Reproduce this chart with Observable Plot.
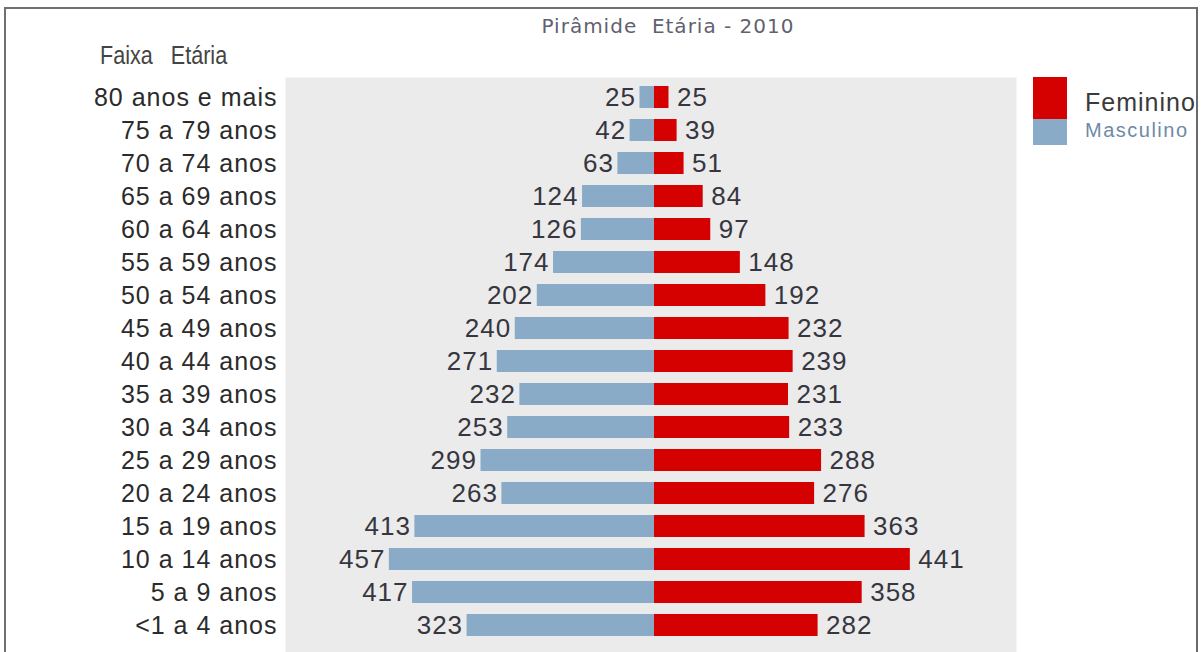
<!DOCTYPE html>
<html>
<head>
<meta charset="utf-8">
<script src="https://cdn.jsdelivr.net/npm/d3@7"></script>
<script src="https://cdn.jsdelivr.net/npm/@observablehq/plot@0.6"></script>
<style>
  html, body { margin: 0; padding: 0; background: #fff; }
  #page { position: relative; width: 1204px; height: 652px; overflow: hidden; font-family: "Liberation Sans", Arial, sans-serif; }
  #border { position: absolute; left: 4px; top: 7px; width: 1194px; height: 660px; border-top: 2px solid #707070; border-left: 2px solid #707070; border-right: 2px solid #6a6a6a; box-sizing: border-box; pointer-events: none; z-index: 5; }
  #chart { position: absolute; left: 0; top: 0; }
  #title { position: absolute; top: 14px; left: 0; width: 1336px; text-align: center; font-family: "DejaVu Sans", Verdana, sans-serif; font-size: 20px; letter-spacing: 1px; color: #625f70; white-space: pre; }
  #ylabel { position: absolute; left: 100px; top: 40px; font-size: 26px; color: #444; white-space: pre; transform: scaleX(0.83); transform-origin: left top; }
  #legend { position: absolute; left: 1033px; top: 77px; width: 162px; height: 80px; overflow: hidden; }
  .sw { position: absolute; left: 0; width: 34px; }
  .lt { position: absolute; white-space: pre; transform-origin: left top; }
</style>
</head>
<body>
<div id="page">
  <div id="chart"></div>
  <div id="title">Pirâmide  Etária - 2010</div>
  <div id="ylabel">Faixa   Etária</div>
  <div id="legend"></div>
  <div id="border"></div>
</div>
<script>
const ages = ["80 anos e mais", "75 a 79 anos", "70 a 74 anos", "65 a 69 anos", "60 a 64 anos",
  "55 a 59 anos", "50 a 54 anos", "45 a 49 anos", "40 a 44 anos", "35 a 39 anos",
  "30 a 34 anos", "25 a 29 anos", "20 a 24 anos", "15 a 19 anos", "10 a 14 anos",
  "5 a 9 anos", "<1 a 4 anos"];
const masculino = [25, 42, 63, 124, 126, 174, 202, 240, 271, 232, 253, 299, 263, 413, 457, 417, 323];
const feminino = [25, 39, 51, 84, 97, 148, 192, 232, 239, 231, 233, 288, 276, 363, 441, 358, 282];
const series = ["Feminino", "Masculino"];
const colors = ["#d50000", "#8aabc8"];

const rows = ages.map((age, i) => ({age, m: masculino[i], f: feminino[i]}));

const chart = Plot.plot({
  width: 1204,
  height: 652,
  marginLeft: 285,
  marginRight: 188,
  marginTop: 77,
  marginBottom: 0,
  style: {fontFamily: "'Liberation Sans', Arial, sans-serif", fontSize: "25px", letterSpacing: "1px", color: "#2b2b2b", background: "transparent"},
  x: {domain: [-636, 624], axis: null},
  y: {domain: ages, paddingInner: 0.33, paddingOuter: 0.377, align: 0.36, label: null, tickSize: 0, tickPadding: 8},
  marks: [
    Plot.frame({fill: "#ebebeb", stroke: "none"}),
    Plot.barX(rows, {x1: 0, x2: d => -d.m, y: "age", fill: colors[1]}),
    Plot.barX(rows, {x1: 0, x2: d => d.f, y: "age", fill: colors[0]}),
    Plot.text(rows, {x: d => -d.m, y: "age", text: d => String(d.m), textAnchor: "end", dx: -4, fontSize: 26, fill: "#363640"}),
    Plot.text(rows, {x: d => d.f, y: "age", text: d => String(d.f), textAnchor: "start", dx: 8, fontSize: 26, fill: "#363640"})
  ]
});
document.getElementById("chart").appendChild(chart);

// legend
const legend = document.getElementById("legend");
const sw1 = document.createElement("div");
sw1.className = "sw"; sw1.style.top = "0px"; sw1.style.height = "42px"; sw1.style.background = colors[0];
const sw2 = document.createElement("div");
sw2.className = "sw"; sw2.style.top = "42px"; sw2.style.height = "26px"; sw2.style.background = colors[1];
legend.appendChild(sw1); legend.appendChild(sw2);
const t1 = document.createElement("div");
t1.className = "lt"; t1.textContent = series[0];
t1.style.left = "52px"; t1.style.top = "11px"; t1.style.fontSize = "25px"; t1.style.color = "#3a3a3a"; t1.style.letterSpacing = "1px";
const t2 = document.createElement("div");
t2.className = "lt"; t2.textContent = series[1];
t2.style.left = "52px"; t2.style.top = "42px"; t2.style.fontSize = "20px"; t2.style.color = "#6f89a6"; t2.style.letterSpacing = "1.5px";
legend.appendChild(t1); legend.appendChild(t2);
</script>
</body>
</html>
